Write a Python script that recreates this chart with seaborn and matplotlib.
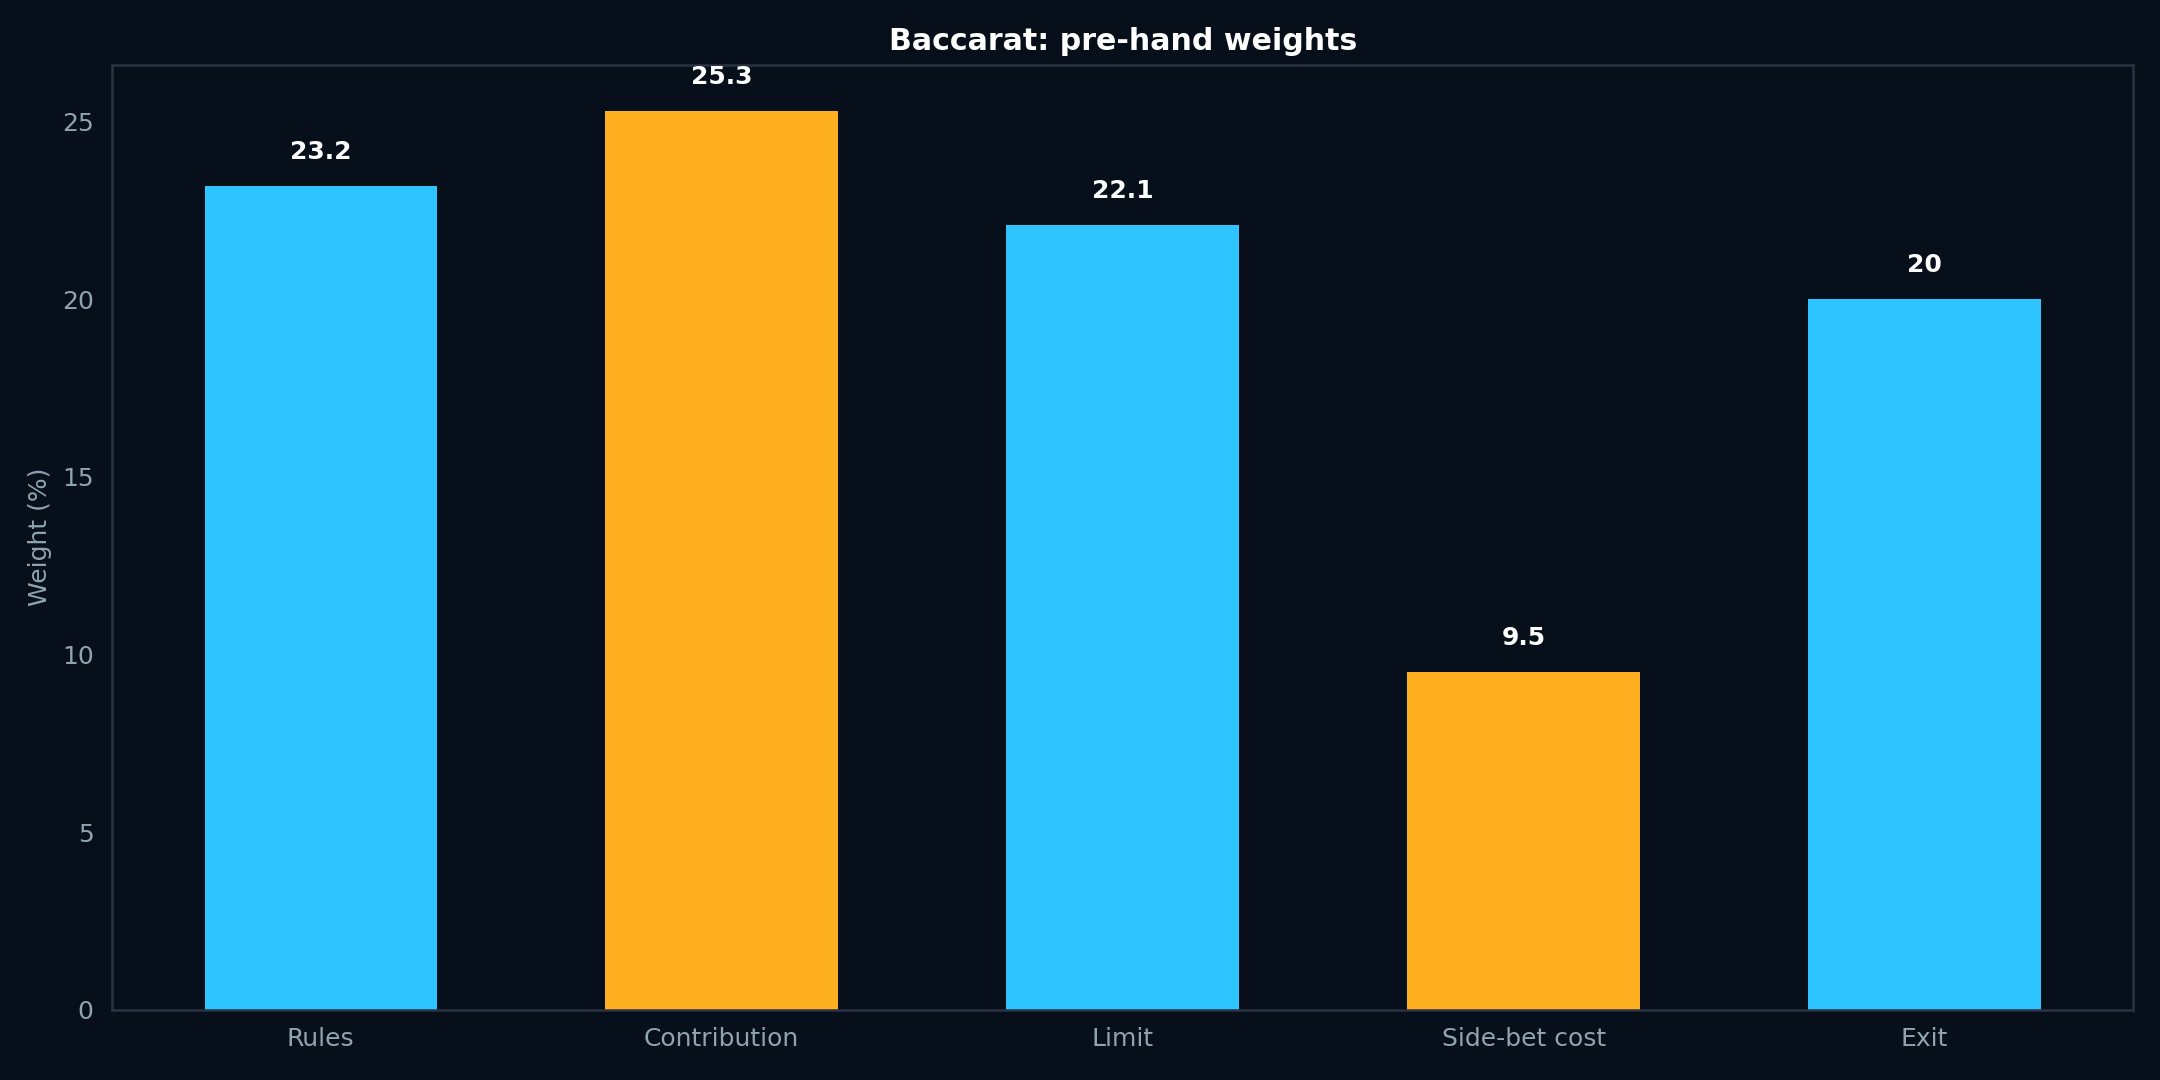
import pandas as pd
import numpy as np
import seaborn as sns
import matplotlib.pyplot as plt

# valores
categorias = ['Rules', 'Contribution', 'Limit', 'Side-bet cost', 'Exit']
pesos = [23.2, 25.3, 22.1, 9.5, 20]
grupo = ['base', 'destaque', 'base', 'destaque', 'base']

fundo = '#07101a'
cor_texto = '#8fa3b0'
cor_borda = '#2b3244'
paleta = {'base': '#2ec4ff', 'destaque': '#ffb020'}

df = pd.DataFrame({'categoria': categorias, 'peso': pesos, 'grupo': grupo})

sns.set_style('dark')
plt.rcParams['font.family'] = ['DejaVu Sans']

fig, ax = plt.subplots(figsize=(12, 6), dpi=180)
fig.patch.set_facecolor(fundo)
ax.set_facecolor(fundo)

sns.barplot(data=df, x='categoria', y='peso', hue='grupo', palette=paleta,
            dodge=False, width=0.58, legend=False, saturation=1,
            linewidth=0, ax=ax)

for i, v in enumerate(pesos):
    ax.text(i, v + 0.62, f'{v:g}', ha='center', va='bottom', color='white',
            fontsize=10, fontweight='bold')

ax.set_xlim(-0.52, 4.52)
ax.set_ylim(0, 26.6)
ax.set_xlabel('')
ax.set_ylabel('Weight (%)', color=cor_texto, fontsize=10)
ax.set_title('Baccarat: pre-hand weights', color='white', fontsize=12,
             fontweight='bold', pad=6)
ax.tick_params(colors=cor_texto, labelsize=10, length=4, color=cor_texto)
ax.tick_params(axis='x', pad=3)
ax.grid(False)
for s in ax.spines.values():
    s.set_visible(True)
    s.set_color(cor_borda)
    s.set_linewidth(1)

plt.subplots_adjust(left=0.052, right=0.9875, top=0.94, bottom=0.065)
plt.savefig('out.png', dpi=180, facecolor=fundo)
